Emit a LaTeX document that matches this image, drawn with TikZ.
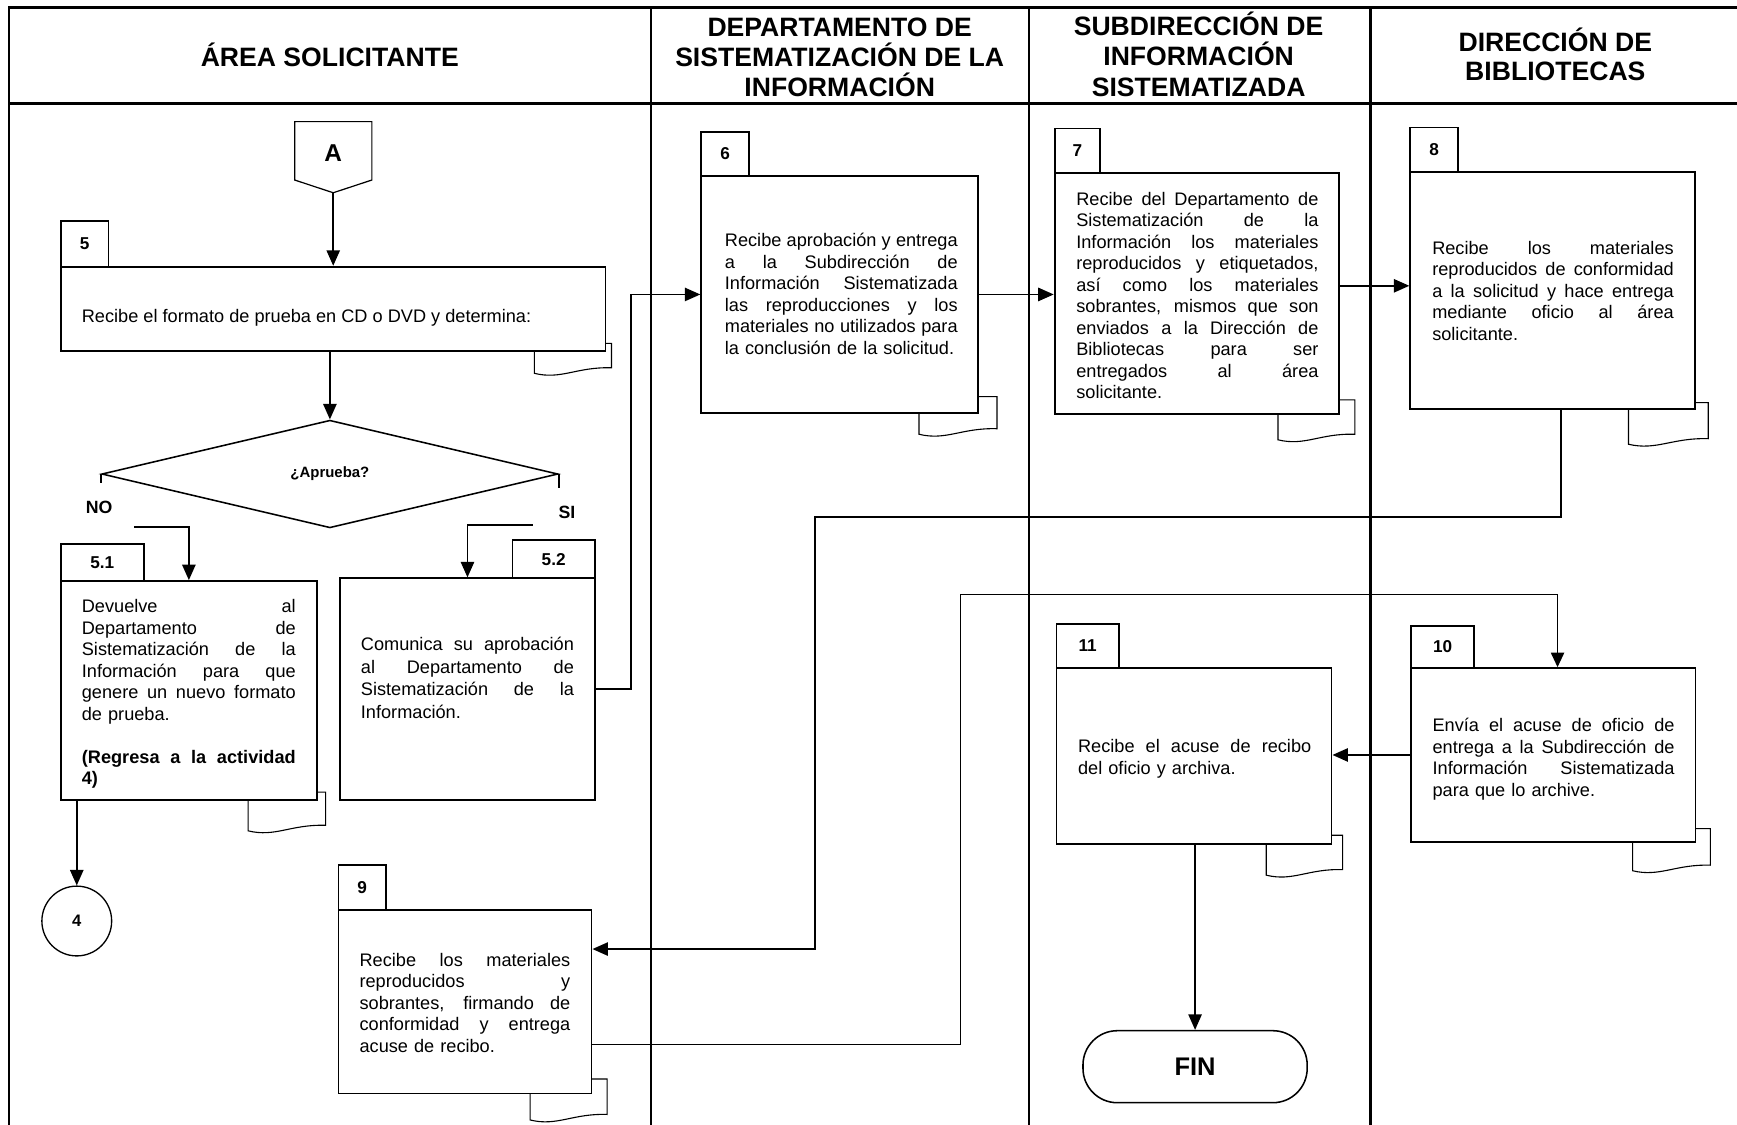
\documentclass[tikz,border=0pt]{standalone}
\usepackage{fontspec}
\setmainfont{Liberation Sans}
\usetikzlibrary{arrows.meta,shapes.geometric,fit}
\newdimen\tw
\newcommand\jl[1]{\hbox to \tw{\spaceskip=0.278em plus 1fil minus 0.08em\relax #1}\par}
\newcommand\lastl[1]{\hbox{#1}\par}
\newcommand\doctab[4]{\draw[ptab] (#1,#3) -- (#2,#3) -- (#2,#4-5) .. controls ({#2-0.45*(#2-#1)},#4-6) and ({#1+0.35*(#2-#1)},#4+6) .. (#1,#4) -- cycle;}
\tikzset{
 pframe/.style={line width=2.4pt},
 plane/.style={line width=2.2pt},
 pbox/.style={draw, line width=1.6pt, fill=white, inner sep=0pt},
 plab/.style={draw, line width=1.6pt, fill=white, inner sep=0pt},
 pnum/.style={inner sep=0pt, font=\fontsize{15.5}{18}\selectfont\bfseries},
 ptxt/.style={inner sep=0pt, anchor=north west, align=left, font=\fontsize{16.4}{19.4}\selectfont},
 phdr/.style={inner sep=0pt, anchor=base, font=\fontsize{24}{27}\selectfont\bfseries},
 pconn/.style={line width=1.6pt, -{Triangle[length=14pt,width=12pt]}},
 pthin/.style={line width=1pt, -{Triangle[length=13pt,width=12pt]}},
 ptab/.style={line width=1pt, fill=white},
 pbold/.style={inner sep=0pt, font=\fontsize{16}{19}\selectfont\bfseries},
}
\begin{document}
\begin{tikzpicture}[x=1pt,y=-1pt]
\useasboundingbox (0,0) rectangle (1568,1015);
% frame and lanes
\draw[pframe] (8,1016) -- (8,6.6) -- (1568,6.6);
\draw[plane] (8,93.3) -- (1568,93.3);
\draw[plane] (587.5,6.6) -- (587.5,1016);
\draw[plane] (929,6.6) -- (929,1016);
\draw[plane] (1237,6.6) -- (1237,1016);
% headers
\node[phdr] (h1) at (297.7,60.2) {ÁREA SOLICITANTE};
\node[phdr] (h2a) at (758,33) {DEPARTAMENTO DE};
\node[phdr] (h2b) at (758,60) {SISTEMATIZACIÓN DE LA};
\node[phdr] (h2c) at (758,87) {INFORMACIÓN};
\node[phdr] (h3a) at (1082,32) {SUBDIRECCIÓN DE};
\node[phdr] (h3b) at (1082,59.5) {INFORMACIÓN};
\node[phdr] (h3c) at (1082,87) {SISTEMATIZADA};
\node[phdr] (h4a) at (1404,46.6) {DIRECCIÓN DE};
\node[phdr] (h4b) at (1404,73.1) {BIBLIOTECAS};
% connector A
\draw[line width=1.1pt] (266,109.8) -- (335.7,109.8) -- (335.7,162.5) -- (300.8,174) -- (266,162.5) -- cycle;
\node[inner sep=0pt, font=\fontsize{22}{24}\selectfont\bfseries] (nA) at (300.8,138.4) {A};
\coordinate (Atip) at (300.8,174);
% document tabs
\doctab{482.4}{552}{310}{337}
\doctab{224}{294}{715}{750}
\doctab{829.6}{900}{358}{392}
\doctab{1153.6}{1223}{361}{397}
\doctab{1470}{1542}{363.5}{401}
\doctab{478.6}{548}{974}{1011}
\doctab{1473.7}{1544}{748}{786}
\doctab{1143}{1212}{754}{790}
% boxes
\node[pbox, fit={(54.8,240.7) (546.5,316.6)}] (b5) {};
\node[pbox, fit={(54.8,524.5) (286,722)}] (b51) {};
\node[pbox, fit={(307,522) (537,722)}] (b52) {};
\node[pbox, fit={(633,159) (883,372.6)}] (b6) {};
\node[pbox, fit={(952,156) (1209,374)}] (b7) {};
\node[pbox, fit={(1273,155) (1530,369.5)}] (b8) {};
\node[pbox, fit={(305.5,821.5) (534,987)}] (b9) {};
\node[pbox, fit={(1274,603) (1530.6,760)}] (b10) {};
\node[pbox, fit={(953.7,603) (1202,762)}] (b11) {};
% labels
\node[plab, fit={(54.8,199.5) (98,240.7)}] (l5) {};
\node[plab, fit={(54.8,491.4) (130,524.5)}] (l51) {};
\node[plab, fit={(462.6,487.5) (537,522)}] (l52) {};
\node[plab, fit={(633,119) (676,159)}] (l6) {};
\node[plab, fit={(952,116) (993,156)}] (l7) {};
\node[plab, fit={(1273,115) (1316,155)}] (l8) {};
\node[plab, fit={(305.5,780.8) (348.5,821.5)}] (l9) {};
\node[plab, fit={(1274,565) (1330.6,603)}] (l10) {};
\node[plab, fit={(953.7,563) (1010,603)}] (l11) {};
\node[pnum] (n5) at (l5.center) {5};
\node[pnum] (n51) at (l51.center) {5.1};
\node[pnum] (n52) at (l52.center) {5.2};
\node[pnum] (n6) at (l6.center) {6};
\node[pnum] (n7) at (l7.center) {7};
\node[pnum] (n8) at (l8.center) {8};
\node[pnum] (n9) at (l9.center) {9};
\node[pnum] (n10) at (l10.center) {10};
\node[pnum] (n11) at (l11.center) {11};
% texts
\node[ptxt] (t5) at (73.7,278.6) {Recibe el formato de prueba en CD o DVD y determina:};
\node[ptxt, text width=193.1pt] (t51) at (73.7,541.2) {\tw=193.1pt
 \jl{Devuelve al}\jl{Departamento de}\jl{Sistematización de la}\jl{Información para que}\jl{genere un nuevo formato}\lastl{de prueba.}\vskip19.4pt
 \jl{\bfseries(Regresa a la actividad}\lastl{\bfseries 4)}};
\node[ptxt, text width=192.3pt, font=\fontsize{16.4}{20.5}\selectfont] (t52) at (325.6,574.9) {\tw=192.3pt
 \jl{Comunica su aprobación}\jl{al Departamento de}\jl{Sistematización de la}\lastl{Información.}};
\node[ptxt, text width=210.1pt] (t6) at (654.2,210.6) {\tw=210.1pt
 \jl{Recibe aprobación y entrega}\jl{a la Subdirección de}\jl{Información Sistematizada}\jl{las reproducciones y los}\jl{materiales no utilizados para}\lastl{la conclusión de la solicitud.}};
\node[ptxt, text width=218.6pt] (t7) at (971.4,173.2) {\tw=218.6pt
 \jl{Recibe del Departamento de}\jl{Sistematización de la}\jl{Información los materiales}\jl{reproducidos y etiquetados,}\jl{así como los materiales}\jl{sobrantes, mismos que son}\jl{enviados a la Dirección de}\jl{Bibliotecas para ser}\jl{entregados al área}\lastl{solicitante.}};
\node[ptxt, text width=218pt] (t8) at (1292.7,217.6) {\tw=218pt
 \jl{Recibe los materiales}\jl{reproducidos de conformidad}\jl{a la solicitud y hace entrega}\jl{mediante oficio al área}\lastl{solicitante.}};
\node[ptxt, text width=190.2pt] (t9) at (324.4,860.2) {\tw=190.2pt
 \jl{Recibe los materiales}\jl{reproducidos y}\jl{sobrantes, firmando de}\jl{conformidad y entrega}\lastl{acuse de recibo.}};
\node[ptxt, text width=218.4pt] (t10) at (1293,648.1) {\tw=218.4pt
 \jl{Envía el acuse de oficio de}\jl{entrega a la Subdirección de}\jl{Información Sistematizada}\lastl{para que lo archive.}};
\node[ptxt, text width=210.5pt] (t11) at (973,667.6) {\tw=210.5pt
 \jl{Recibe el acuse de recibo}\lastl{del oficio y archiva.}};
% decision
\node[diamond, draw, line width=1.4pt, minimum width=411.8pt, minimum height=97.2pt, inner sep=0pt, aspect=4.2, font=\fontsize{13.5}{15}\selectfont\bfseries] (dia) at (297.8,427.9) {¿Aprueba?};
\draw[line width=1.4pt] (dia.west) -- ++(0,8.4);
\draw[line width=1.4pt] (dia.east) -- ++(0,12.8);
\node[pbold] (no) at (89.5,458.3) {NO};
\node[pbold] (si) at (511.8,462.8) {SI};
% connector 4 and FIN
\node[draw, circle, line width=1.2pt, minimum size=63pt, inner sep=0pt, font=\fontsize{15}{18}\selectfont\bfseries] (c4) at (69.3,831.4) {4};
\node[draw, rounded corners=31pt, line width=1.4pt, minimum width=202.4pt, minimum height=65pt, inner sep=0pt, font=\fontsize{23}{26}\selectfont\bfseries] (fin) at (1078.8,962.9) {FIN};
% coordinates
\coordinate (noS) at (121,475.4);
\coordinate (noX) at (170.5,0);
\coordinate (siS) at (480.8,474);
\coordinate (siX) at (422,0);
\coordinate (a78) at (0,258);
\coordinate (c8) at (1409,467);
\coordinate (k1) at (736,0);
\coordinate (k2) at (0,856.7);
\coordinate (k3) at (0,943);
\coordinate (k4) at (867,537);
\coordinate (c10) at (1406,0);
% connectors
\draw[pconn] (Atip) -- (Atip |- b5.north);
\draw[pconn] (b5.south -| dia.north) -- (dia.north);
\draw[pconn] (noS) -| (noX |- b51.north);
\draw[pconn] (siS) -| (siX |- b52.north);
\draw[pconn] (b51.south -| c4.north) -- (c4.north);
\draw[pconn] (b52.east) -- ++(32,0) |- (b6.west);
\draw[pconn] (b6.east) -- (b6.east -| b7.west);
\draw[pconn] (a78 -| b7.east) -- (a78 -| b8.west);
\draw[pconn] (c8 |- b8.south) -- (c8) -- (k1 |- c8) -- (k1 |- k2) -- (b9.east |- k2);
\draw[pthin] (b9.east |- k3) -| (k4) -| (c10 |- b10.north);
\draw[pconn] (b10.west) -- (b10.west -| b11.east);
\draw[pconn, line width=1.4pt] (b11.south -| fin.north) -- (fin.north);
\end{tikzpicture}
\end{document}
